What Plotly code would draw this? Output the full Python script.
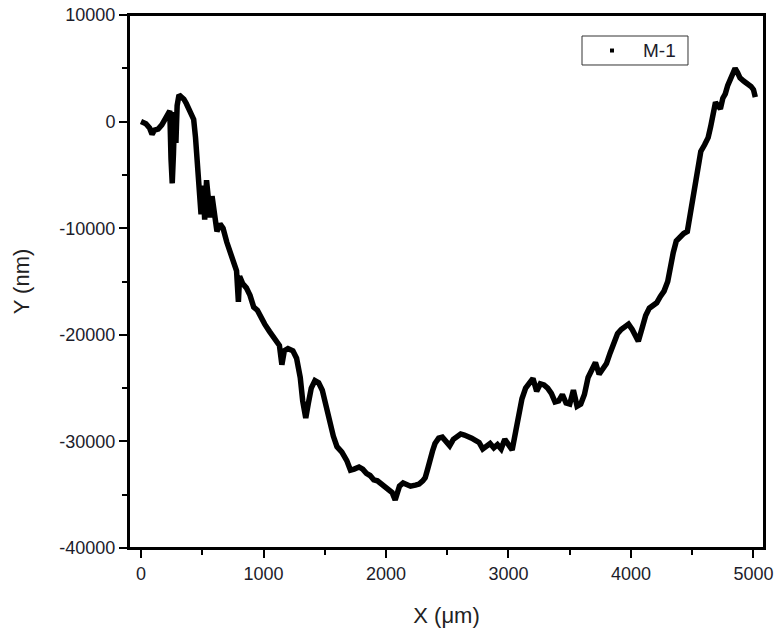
import plotly.graph_objects as go

x_um = [0, 40, 70, 90, 110, 140, 170, 200, 215, 235, 245, 255, 265, 275, 285, 295, 310, 330, 350, 370,
        390, 410, 430, 445, 460, 475, 490, 505, 520, 535, 550, 565, 580, 600, 620, 645, 670, 700, 730, 760,
        780, 795, 805, 830, 860, 890, 920, 950, 980, 1010, 1050, 1090, 1130, 1150, 1170, 1200, 1240, 1270, 1300, 1320,
        1345, 1365, 1390, 1420, 1450, 1480, 1510, 1540, 1570, 1600, 1640, 1680, 1710, 1740, 1780, 1810, 1840, 1870, 1900, 1930,
        1960, 1990, 2020, 2050, 2075, 2090, 2110, 2140, 2170, 2200, 2240, 2270, 2300, 2320, 2340, 2360, 2380, 2400, 2430, 2460,
        2490, 2520, 2550, 2580, 2610, 2640, 2670, 2700, 2730, 2760, 2790, 2820, 2850, 2880, 2910, 2940, 2970, 3000, 3030, 3060,
        3080, 3110, 3140, 3170, 3200, 3230, 3260, 3290, 3320, 3350, 3380, 3410, 3440, 3470, 3500, 3530, 3560, 3590, 3620, 3650,
        3680, 3710, 3740, 3770, 3800, 3830, 3860, 3890, 3920, 3950, 3980, 4010, 4040, 4060, 4090, 4120, 4150, 4180, 4210, 4240,
        4270, 4300, 4320, 4345, 4370, 4400, 4430, 4460, 4480, 4500, 4520, 4545, 4570, 4600, 4630, 4650, 4670, 4690, 4710, 4730,
        4750, 4770, 4790, 4810, 4830, 4850, 4870, 4890, 4920, 4950, 4980, 5000, 5015]

y_nm = [0, -200, -600, -1200, -800, -700, -300, 300, 700, 1000, -3500, -5800, -3000, 900, -2000, 1500, 2500, 2300, 2100, 1700,
        1200, 800, 200, -1500, -4000, -6500, -8700, -6000, -9200, -5500, -7500, -9000, -7000, -9000, -10300, -9600, -10000, -11300, -12300, -13000,
        -14000, -16900, -14500, -15200, -15600, -16300, -17400, -17700, -18500, -19000, -19700, -20300, -21000, -22800, -21500, -21300, -21500, -22200, -24000, -26200,
        -27800, -26500, -25000, -24300, -24500, -25200, -26800, -28000, -29500, -30500, -31000, -31800, -32700, -32600, -32400, -32600, -33000, -33200, -33600, -33700,
        -34000, -34200, -34600, -34800, -35500, -35000, -34200, -33900, -34000, -34200, -34100, -34000, -33700, -33400, -32600, -31500, -30900, -30200, -29700, -29600,
        -30000, -30400, -29800, -29500, -29300, -29400, -29500, -29700, -29900, -30100, -30700, -30500, -30200, -30600, -30300, -30700, -29800, -30300, -30800, -29000,
        -27500, -26000, -25000, -24500, -24100, -25300, -24600, -24700, -25000, -25500, -26300, -26200, -25600, -26400, -26500, -25200, -26700, -26500, -25600, -24000,
        -23200, -22600, -23700, -23100, -22700, -21700, -20800, -19900, -19500, -19200, -19000, -19500, -20200, -20600, -19400, -18200, -17500, -17300, -17000, -16400,
        -15900, -15000, -13500, -12300, -11200, -10800, -10500, -10300, -9000, -7300, -5800, -4200, -2800, -2200, -1500, -500, 500, 1800, 1500, 1200,
        2200, 2600, 3400, 4000, 4600, 5000, 4600, 4100, 3800, 3600, 3300, 3000, 2300]

series_name = "M-1"
x_ticks = [0, 1000, 2000, 3000, 4000, 5000]
y_ticks = [-40000, -30000, -20000, -10000, 0, 10000]

font_family = "Liberation Sans, Arial, sans-serif"
tick_color = "#1c1c2a"

fig = go.Figure()
fig.add_trace(go.Scatter(
    x=x_um, y=y_nm, mode="lines", name=series_name,
    line=dict(color="black", width=5.5),
    showlegend=False,
))

axis_common = dict(
    showgrid=False, zeroline=False, automargin=False, ticklabeloverflow="allow",
    showline=True, linecolor="black", linewidth=2, mirror=True,
    ticks="outside", ticklen=8, tickwidth=2, tickcolor="black",
    tickfont=dict(family=font_family, size=18, color=tick_color),
)

# frame around the plot area
fig.add_shape(type="rect", xref="paper", yref="paper", x0=0, x1=1, y0=0, y1=1,
              line=dict(color="black", width=2), layer="above")

# legend box (as in the original: box, square marker, label)
fig.add_shape(type="rect", xref="paper", yref="paper", x0=0.7134, x1=0.8803, y0=0.9062, y1=0.9606,
              line=dict(color="#333", width=1), fillcolor="white", layer="above")
fig.add_shape(type="rect", xref="paper", yref="paper", x0=0.7575, x1=0.7638, y0=0.9296, y1=0.9371,
              line=dict(width=0), fillcolor="black", layer="above")
fig.add_annotation(text=series_name, xref="paper", yref="paper", x=0.8065, y=0.9334,
                   xanchor="left", yanchor="middle", showarrow=False,
                   font=dict(family=font_family, size=19, color=tick_color))

fig.update_layout(
    width=777, height=632,
    margin=dict(l=129, r=13, t=15, b=84),
    paper_bgcolor="white", plot_bgcolor="white",
    showlegend=False,
    xaxis=dict(
        range=[-98, 5086], tickvals=x_ticks, ticktext=[str(v) for v in x_ticks],
        minor=dict(dtick=500, tick0=0, ticks="outside", ticklen=5, tickwidth=2, tickcolor="black"),
        title=dict(text="X (\u03bcm)", font=dict(family=font_family, size=22, color="#222"), standoff=25),
        **axis_common,
    ),
    yaxis=dict(
        range=[-40000, 10000], tickvals=y_ticks, ticktext=[str(v) for v in y_ticks],
        minor=dict(dtick=5000, tick0=0, ticks="outside", ticklen=5, tickwidth=2, tickcolor="black"),
        title=dict(text="Y (nm)", font=dict(family=font_family, size=22, color="#222"), standoff=24),
        **axis_common,
    ),
)

# remove the page's default 8px body margin so the figure fills the window exactly; hide the modebar
fig.write_html("out.html", config={"displayModeBar": False},
               post_script="document.body.style.margin='0';")
